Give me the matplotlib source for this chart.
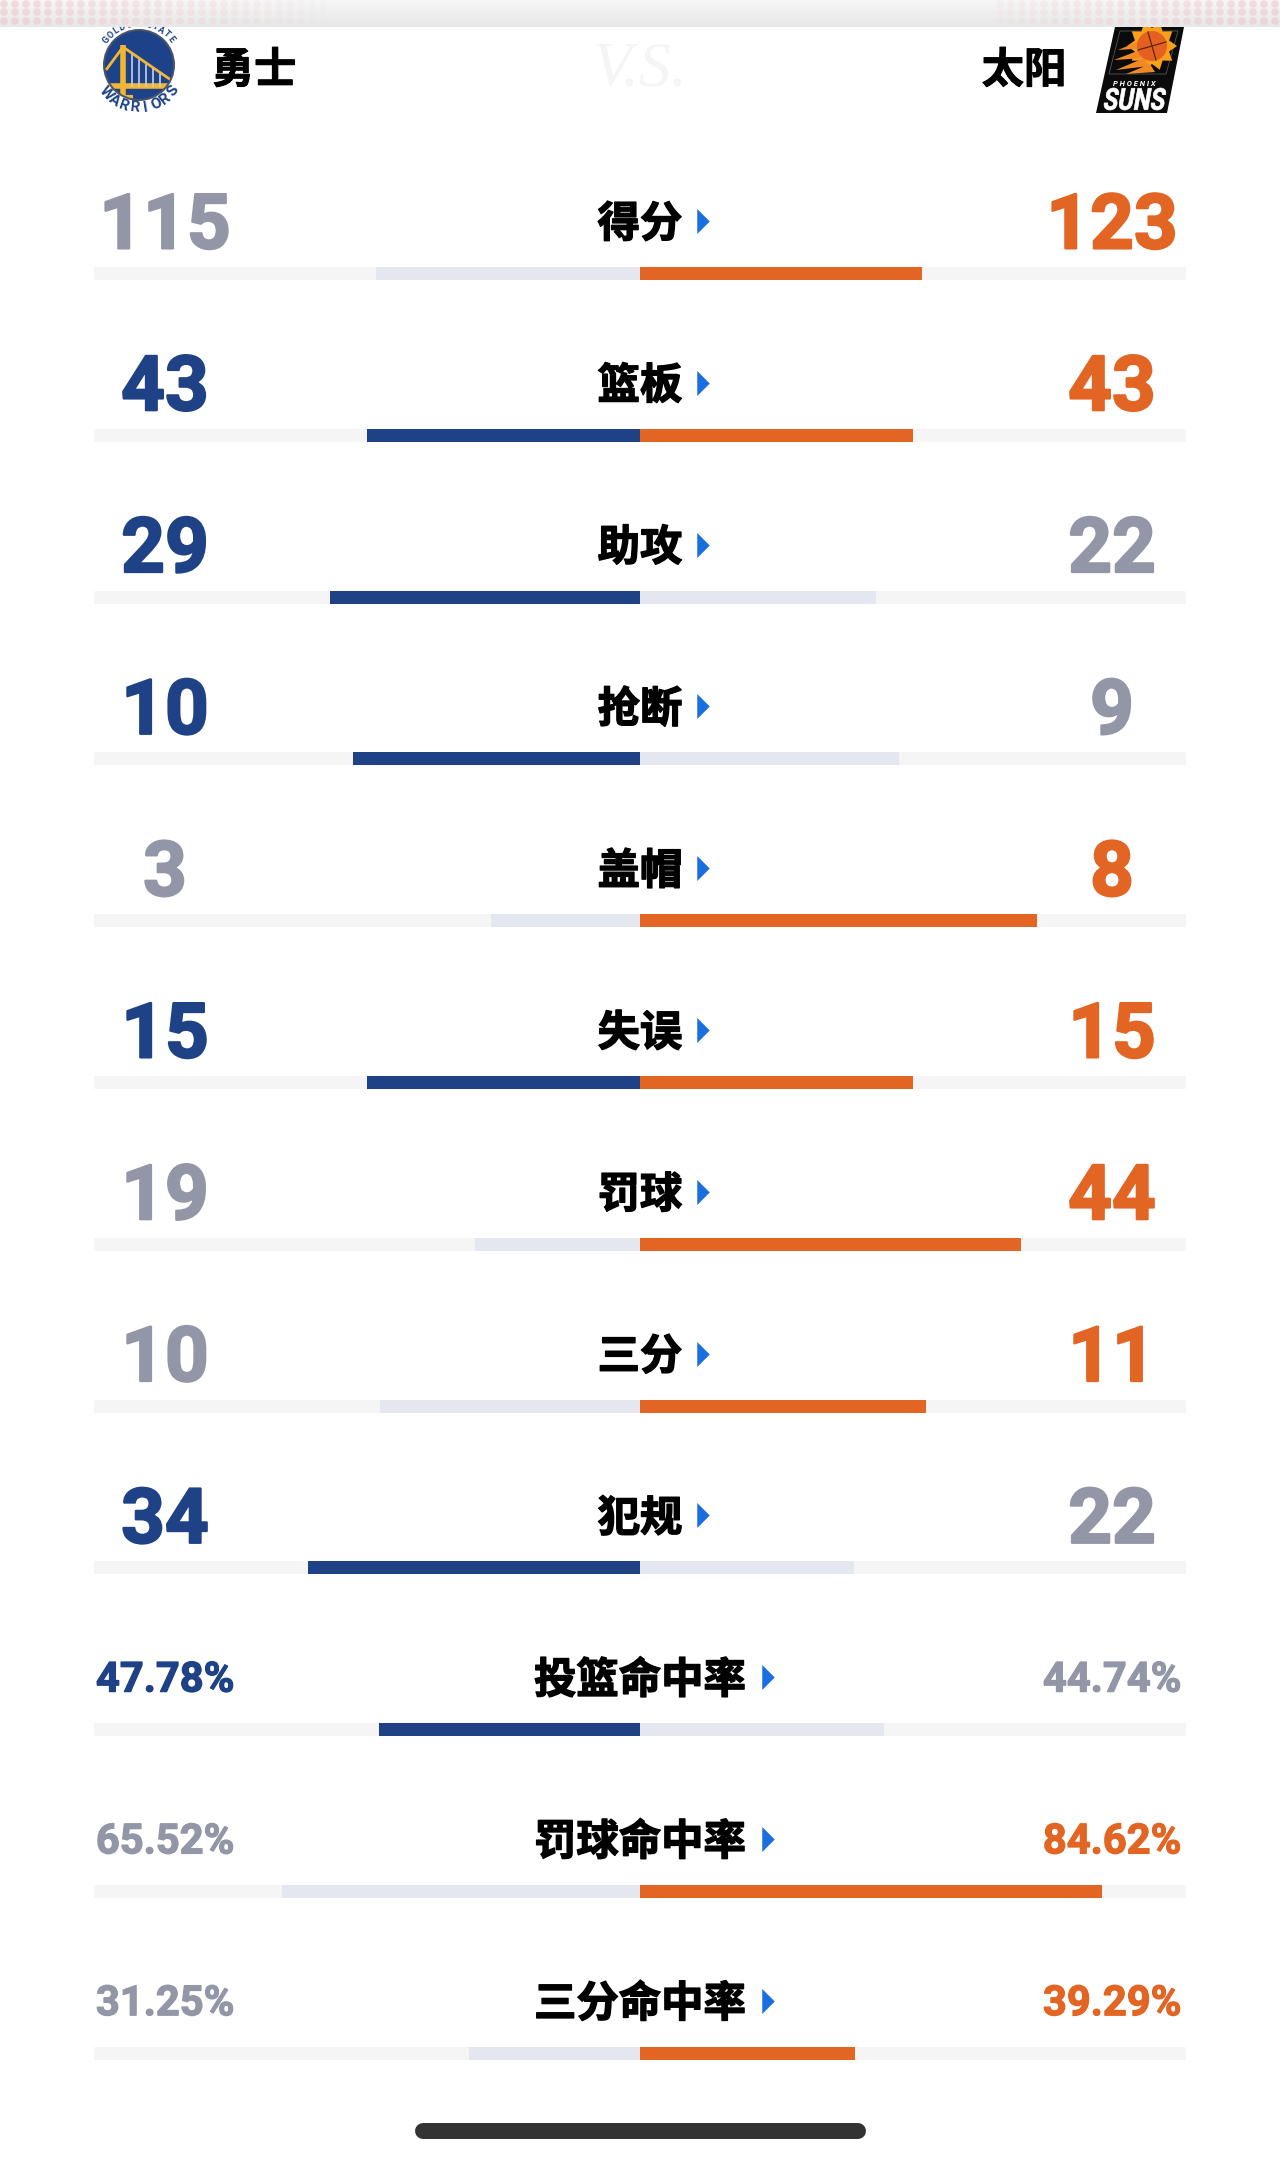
import numpy as np
import matplotlib
matplotlib.use("Agg")
import matplotlib.pyplot as plt
import matplotlib.patheffects as pe
from matplotlib.patches import Circle, Polygon, PathPatch
from matplotlib.textpath import TextPath
from matplotlib.font_manager import FontProperties
from matplotlib.transforms import Affine2D

plt.rcParams['font.family'] = ['Noto Sans CJK SC', 'DejaVu Sans']

# data
count_labels = ['得分', '篮板', '助攻', '抢断', '盖帽', '失误', '罚球', '三分', '犯规']
warriors_counts = [115, 43, 29, 10, 3, 15, 19, 10, 34]
suns_counts = [123, 43, 22, 9, 8, 15, 44, 11, 22]
pct_labels = ['投篮命中率', '罚球命中率', '三分命中率']
warriors_pct = [47.78, 65.52, 31.25]
suns_pct = [44.74, 84.62, 39.29]
team_left = '勇士'
team_right = '太阳'

BLUE = '#1f4287'
ORANGE = '#e36524'
GREY = '#9396a6'
LOSER_BAR = '#e4e7f0'
TRACK = '#f5f5f6'
ARROW = '#1a6fe0'

W, H = 1280, 2160
CENTER, HALF = 640, 546
ROW0, ROW_STEP = 273.5, 161.8

fig = plt.figure(figsize=(W / 100, H / 100), dpi=100, facecolor='white')

# main axes: x is share of the half track, y is the row number
ax = fig.add_axes([0, 0, 1, 1])
ax.set_xlim(-CENTER / HALF, (W - CENTER) / HALF)
ax.set_ylim((H - ROW0) / ROW_STEP, -ROW0 / ROW_STEP)
ax.axis('off')

n_counts = len(count_labels)
n_rows = n_counts + len(pct_labels)
rows = np.arange(n_rows)
labels = count_labels + pct_labels
left_vals = np.array(warriors_counts + warriors_pct, dtype=float)
right_vals = np.array(suns_counts + suns_pct, dtype=float)

left_share = left_vals / 100
right_share = right_vals / 100
totals = left_vals[:n_counts] + right_vals[:n_counts]
left_share[:n_counts] = left_vals[:n_counts] / totals
right_share[:n_counts] = right_vals[:n_counts] / totals

left_col = [BLUE if l >= r else GREY for l, r in zip(left_vals, right_vals)]
right_col = [ORANGE if r >= l else GREY for l, r in zip(left_vals, right_vals)]
left_bar = [BLUE if l >= r else LOSER_BAR for l, r in zip(left_vals, right_vals)]
right_bar = [ORANGE if r >= l else LOSER_BAR for l, r in zip(left_vals, right_vals)]

bar_h = 13 / ROW_STEP
ax.barh(rows, 2, left=-1, height=bar_h, color=TRACK)
ax.barh(rows, -left_share, left=0, height=bar_h, color=left_bar)
ax.barh(rows, right_share, left=0, height=bar_h, color=right_bar)


def heavy(color, lw):
    return [pe.withStroke(linewidth=lw, foreground=color)]


x_left = (165 - CENTER) / HALF
x_right = (1112 - CENTER) / HALF
tri = [(-0.5, -1), (0.5, 0), (-0.5, 1), (-0.5, -1)]
for i, lab in enumerate(labels):
    y = i - 0.325
    if i < n_counts:
        txt_l, txt_r = f'{left_vals[i]:.0f}', f'{right_vals[i]:.0f}'
        size, shift, stroke = 55, 7, 1.6
    else:
        txt_l, txt_r = f'{left_vals[i]:.2f}%', f'{right_vals[i]:.2f}%'
        size, shift, stroke = 30, 3, 0.9
    ax.text(x_left, y + shift / ROW_STEP, txt_l, color=left_col[i], fontsize=size, family='Roboto',
            fontweight='bold', ha='center', va='center', path_effects=heavy(left_col[i], stroke))
    ax.text(x_right, y + shift / ROW_STEP, txt_r, color=right_col[i], fontsize=size, family='Roboto',
            fontweight='bold', ha='center', va='center', path_effects=heavy(right_col[i], stroke))
    ax.text(0, y + 4 / ROW_STEP, lab, color='black', fontsize=30.5, fontweight='black', ha='center',
            va='center', path_effects=heavy('black', 1.0))
    ax.plot((21.7 * len(lab) + 20) / HALF, y, marker=tri, ms=18, color=ARROW, mew=0)

# overlay in pixels for the page furniture and the logos
px = fig.add_axes([0, 0, 1, 1], facecolor='none')
px.set_xlim(0, W)
px.set_ylim(H, 0)
px.axis('off')

# VS watermark
px.text(640, 70, 'V.S.', color='#f5f5f5', fontsize=46, family='Liberation Serif',
        style='italic', ha='center', va='center')

# warriors logo
cx, cy = 139, 65
px.add_patch(Circle((cx, cy), 36, fc='#4a5568', ec='none'))
px.add_patch(Circle((cx, cy), 34, fc='#1d428a', ec='none'))
clip = Circle((cx, cy), 34, transform=px.transData)
GOLD = '#f2b632'
bridge = [
    ([123, 123], [45, 95], 4),
    ([106, 175], [86, 86], 4),
    ([123, 171], [47, 80], 2),
    ([123, 106], [47, 70], 2),
    ([112, 133], [97, 97], 3),
]
for xs, ys, lw in bridge:
    ln, = px.plot(xs, ys, color=GOLD, lw=lw, solid_capstyle='butt')
    ln.set_clip_path(clip)
for hx, hy in [(132, 55), (139, 60), (146, 65), (153, 69), (160, 74)]:
    ln, = px.plot([hx, hx], [hy, 86], color='#c9cfe0', lw=1.2)
    ln.set_clip_path(clip)


def arc_text(word, angles, radius, size, flip):
    for ch, a in zip(word, angles):
        t = np.radians(a)
        rot = a + 90 if flip else a - 90
        px.text(cx + radius * np.cos(t), cy - radius * np.sin(t), ch, color='#1d428a',
                fontsize=size, family='Roboto', fontweight='bold', rotation=rot,
                ha='center', va='center')


arc_text('WARRIORS', np.linspace(221, 323, 8), 43, 11, True)
arc_text('GOLDEN STATE', np.linspace(142, 39, 12), 41, 6.5, False)

# suns logo
px.add_patch(Polygon([(1115, 27), (1184, 27), (1167, 113), (1096, 113)], fc='#0b0b0b', ec='none'))
px.add_patch(Polygon([(1120, 31), (1178, 31), (1166, 74), (1109, 74)], fc='none', ec='#555555', lw=0.6))
rays = np.radians(np.arange(0, 360, 18))
sun = []
for k, a in enumerate(rays):
    r = 25 if k % 2 == 0 else 18
    sun.append((1152 + r * np.cos(a), 46 - r * np.sin(a)))
px.add_patch(Polygon(sun, fc='#f9a01b', ec='none'))
for tip, root in [((1118, 50), (1142, 40)), ((1114, 60), (1140, 50)), ((1116, 70), (1144, 58)), ((1126, 74), (1150, 64))]:
    px.add_patch(Polygon([tip, root, (root[0] + 5, root[1] + 8)], fc='#f08a24', ec='none'))
px.add_patch(Circle((1152, 46), 15, fc='#e56020', ec='none'))
px.plot([1138, 1166], [50, 42], color='#5a2a10', lw=0.9)
px.plot([1148, 1156], [32, 60], color='#5a2a10', lw=0.9)
px.text(1134, 84, 'P H O E N I X', color='white', fontsize=5.5, family='Roboto',
        fontweight='bold', style='italic', ha='center', va='center')

suns_path = TextPath((0, 0), 'SUNS', size=10, prop=FontProperties(family='Roboto', weight='bold'))
bb = suns_path.get_extents()
to_box = (Affine2D().translate(-bb.x0, -bb.y0)
          .scale(60 / bb.width, -22 / bb.height)
          .skew_deg(-10, 0).translate(1103, 110) + px.transData)
px.add_patch(PathPatch(suns_path, fc='white', ec='white', lw=0.5, transform=to_box))

# team names
for x, name in [(254, team_left), (1024, team_right)]:
    px.text(x, 71, name, color='black', fontsize=30.5, fontweight='bold', ha='center', va='center',
            path_effects=heavy('black', 0.7))

# top strip with pink dots at both ends
strip = np.linspace(0.965, 0.905, 64).reshape(-1, 1)
px.imshow(strip, extent=(0, W, 27, 0), cmap='gray', vmin=0, vmax=1, aspect='auto', zorder=5)
px.set_xlim(0, W)
px.set_ylim(H, 0)
dots_x = np.r_[np.arange(4, 330, 11), np.arange(1000, W, 11)]
dots_y = np.array([4, 12, 21])
gx, gy = np.meshgrid(dots_x, dots_y)
fade = np.clip(np.abs(gx.ravel() - 640) / 640 - 0.45, 0, 1) * 2
px.scatter(gx.ravel(), gy.ravel(), s=30, marker='o', c='#f0bcc3', alpha=np.clip(fade * 0.45, 0, 1),
           lw=0, zorder=6)

# home indicator
px.plot([423, 858], [2131, 2131], color='#333333', lw=11.5, solid_capstyle='round')

fig.savefig('out.png', dpi=100, facecolor='white')
